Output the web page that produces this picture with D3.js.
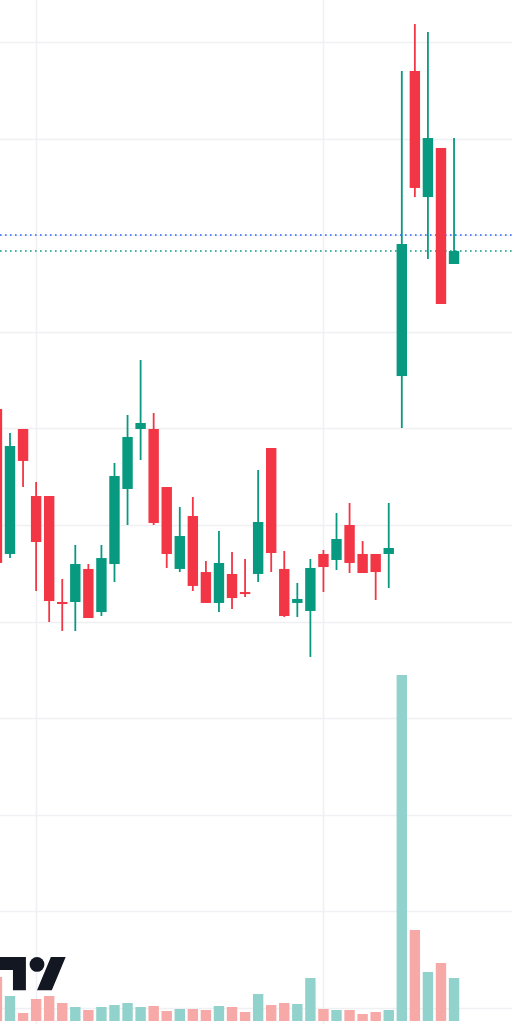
<!DOCTYPE html>
<html><head><meta charset="utf-8">
<script src="https://cdn.jsdelivr.net/npm/d3@7"></script>
<style>html,body{margin:0;padding:0;background:#fff;overflow:hidden}svg{display:block}</style>
</head><body>
<svg id="c" width="512" height="1024"></svg>
<script>
const opens  = [62.01,47.00,59.94,53.00,53.00,42.03,42.03,45.45,40.99,45.96,53.73,59.94,59.94,53.93,45.45,50.93,45.13,41.93,44.93,43.06,44.93,57.97,45.45,41.93,41.10,47.00,46.38,50.00,47.00,47.00,47.00,65.42,97.00,83.95,89.03,77.02];
const highs  = [62.94,59.52,59.94,54.45,53.00,44.41,47.93,45.96,47.93,56.42,61.39,67.08,61.59,53.93,51.86,52.90,46.27,49.38,47.20,46.48,55.69,57.97,47.31,44.00,46.48,47.41,51.24,52.28,48.34,47.00,52.28,97.00,101.86,101.04,89.03,90.06];
const lows   = [45.34,46.58,53.93,43.17,39.96,39.03,39.03,40.37,40.58,44.10,50.00,56.73,50.00,45.55,45.13,43.17,41.93,40.99,41.30,42.55,44.10,45.13,40.48,40.48,36.34,43.06,45.34,45.03,45.03,42.24,43.48,60.04,83.95,77.54,72.88,77.02];
const closes = [46.07,58.18,56.63,48.24,42.13,41.82,45.96,40.37,46.58,55.07,59.11,60.56,50.21,47.00,48.86,43.69,41.93,46.07,42.44,42.86,50.31,47.10,40.58,42.34,45.55,45.65,48.55,46.07,45.03,45.13,47.62,79.09,84.89,90.06,72.88,78.36];
const volumes = [44,25,8,22,25,18,14,11,14,16,18,14,15,10,12,12,11,15,14,9,27,16,18,17,43,12,11,11,7,9,11,346,91,49,58,43];
const periodStarts = [3,25];
const priceTicks = [0,10,20,30,40,50,60,70,80,90,100,110];
const markLevel = 80.02;

const W=512,H=1024;
const svg=d3.select('#c');
const idx=d3.range(opens.length);
const x=d3.scaleLinear().domain([0,35]).range([-3.06,454.04]);
const y=d3.scaleLinear().domain([0,100]).range([1008,42]);
const v=d3.scaleLinear().domain([0,346]).range([1021,675]);
const up='#089981',dn='#f23645',upV='#92d2cc',dnV='#f7a9a7';
const bw=10.4;

const g=svg.append('g');
// grid
g.selectAll('line.h').data(priceTicks).join('line')
 .attr('x1',0).attr('x2',W).attr('y1',d=>Math.round(y(d))+0.5).attr('y2',d=>Math.round(y(d))+0.5)
 .attr('stroke','#eff0f3').attr('stroke-width',1.5);
g.selectAll('line.v').data(periodStarts).join('line')
 .attr('y1',0).attr('y2',H).attr('x1',d=>Math.round(x(d))+0.5).attr('x2',d=>Math.round(x(d))+0.5)
 .attr('stroke','#eff0f3').attr('stroke-width',1.5);

// volume
g.selectAll('rect.vol').data(idx).join('rect')
 .attr('x',i=>x(i)-bw/2).attr('width',bw)
 .attr('y',i=>v(volumes[i])).attr('height',i=>v(0)-v(volumes[i]))
 .attr('fill',i=>closes[i]>=opens[i]?upV:dnV);

// logo
const logo=svg.append('g').attr('transform','translate(0,949.6) scale(1.85)').attr('fill','#131722');
logo.append('path').attr('d','M14 22H7V11H0V4h14v18zM28 22h-8l7.5-18h8L28 22z');
logo.append('circle').attr('cx',20).attr('cy',8).attr('r',4);

// level lines
svg.append('line').attr('x1',0).attr('x2',W).attr('y1',y(markLevel)).attr('y2',y(markLevel))
 .attr('stroke','#2962ff').attr('stroke-width',1.6).attr('stroke-dasharray','1.6,3.4');
svg.append('line').attr('x1',0).attr('x2',W).attr('y1',y(closes[35])).attr('y2',y(closes[35]))
 .attr('stroke','#089981').attr('stroke-width',1.6).attr('stroke-dasharray','1.6,3.4');

// candles
const cg=svg.append('g');
cg.selectAll('line.w').data(idx).join('line')
 .attr('x1',i=>x(i)).attr('x2',i=>x(i)).attr('y1',i=>y(highs[i])).attr('y2',i=>y(lows[i]))
 .attr('stroke',i=>closes[i]>=opens[i]?up:dn).attr('stroke-width',1.8);
cg.selectAll('rect.b').data(idx).join('rect')
 .attr('x',i=>x(i)-bw/2).attr('width',bw)
 .attr('y',i=>y(Math.max(opens[i],closes[i])))
 .attr('height',i=>Math.max(2,Math.abs(y(opens[i])-y(closes[i]))))
 .attr('fill',i=>closes[i]>=opens[i]?up:dn);
</script>
</body></html>
